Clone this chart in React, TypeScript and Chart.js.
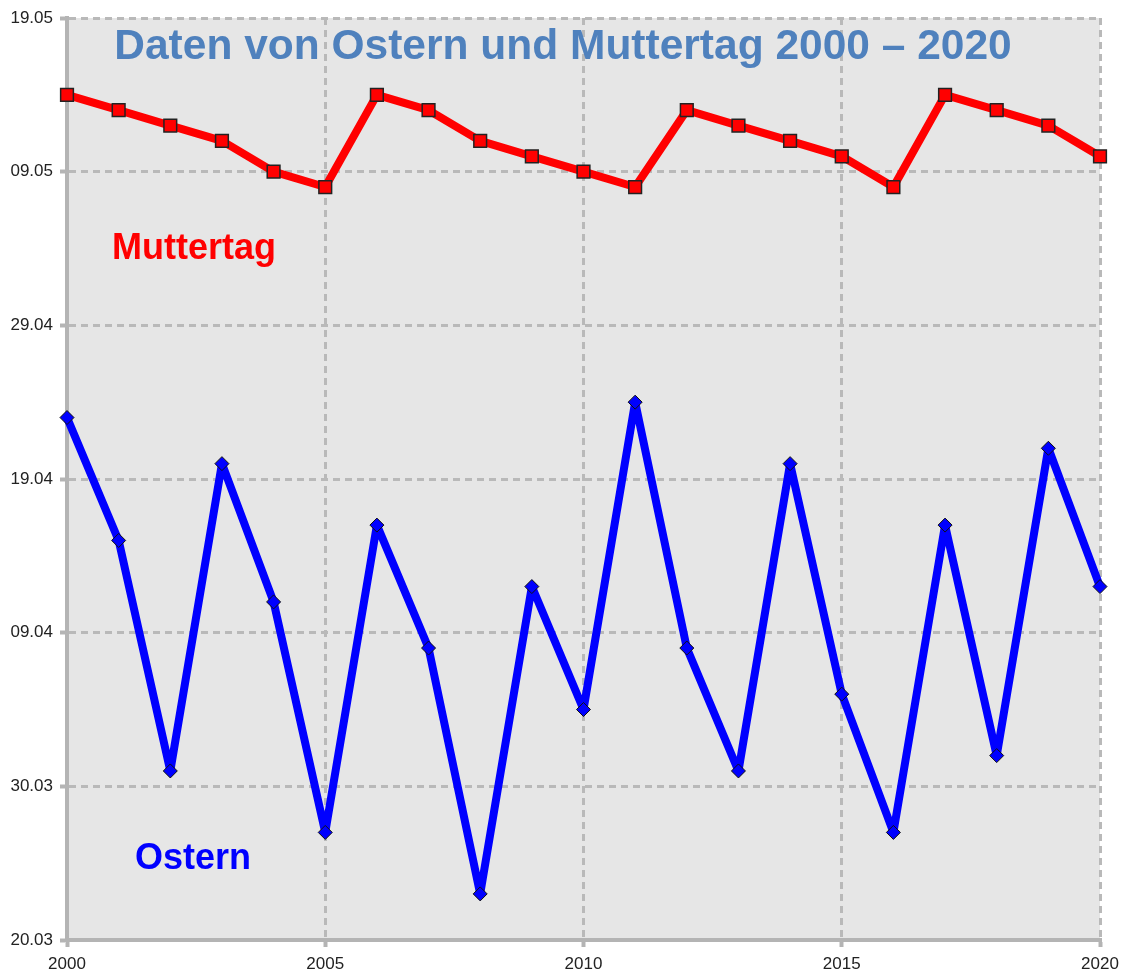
import React, { useEffect, useRef } from "react";
import { Chart, registerables } from "chart.js";

Chart.register(...registerables);

const years = [2000, 2001, 2002, 2003, 2004, 2005, 2006, 2007, 2008, 2009, 2010, 2011, 2012, 2013, 2014, 2015, 2016, 2017, 2018, 2019, 2020];

const osternDates = ["23.04", "15.04", "31.03", "20.04", "11.04", "27.03", "16.04", "08.04", "23.03", "12.04", "04.04", "24.04", "08.04", "31.03", "20.04", "05.04", "27.03", "16.04", "01.04", "21.04", "12.04"];

const muttertagDates = ["14.05", "13.05", "12.05", "11.05", "09.05", "08.05", "14.05", "13.05", "11.05", "10.05", "09.05", "08.05", "13.05", "12.05", "11.05", "10.05", "08.05", "14.05", "13.05", "12.05", "10.05"];

const yTickLabels = ["20.03", "30.03", "09.04", "19.04", "29.04", "09.05", "19.05"];
const xTicks = [2000, 2005, 2010, 2015, 2020];

const titleText = "Daten von Ostern und Muttertag 2000 \u2013 2020";

// days since 20 March
function toDay(s: string): number {
  const [d, m] = s.split(".").map(Number);
  const offset = m === 3 ? -20 : m === 4 ? 11 : 41;
  return d + offset;
}

const FONT = '"Liberation Sans", Arial, sans-serif';

export default function App() {
  const ref = useRef<HTMLCanvasElement | null>(null);

  useEffect(() => {
    document.body.style.margin = "0";
    const canvas = ref.current;
    if (!canvas) return;

    const bgPlugin = {
      id: "bg",
      beforeDraw(chart: any) {
        const { ctx, chartArea } = chart;
        ctx.save();
        ctx.fillStyle = "#e6e6e6";
        ctx.fillRect(chartArea.left, chartArea.top, chartArea.right - chartArea.left, chartArea.bottom - chartArea.top);
        ctx.restore();
      },
    };

    const textPlugin = {
      id: "texts",
      afterDatasetsDraw(chart: any) {
        const { ctx } = chart;
        ctx.save();
        ctx.textAlign = "center";
        ctx.textBaseline = "middle";
        ctx.font = `bold 42.5px ${FONT}`;
        ctx.fillStyle = "#4f81bd";
        ctx.fillText(titleText, 563, 47);
        ctx.textAlign = "left";
        ctx.font = `bold 36px ${FONT}`;
        ctx.fillStyle = "#ff0000";
        ctx.fillText("Muttertag", 112, 249);
        ctx.fillStyle = "#0000ff";
        ctx.fillText("Ostern", 135, 859);
        ctx.restore();
      },
    };

    const chart = new Chart(canvas, {
      type: "line",
      data: {
        datasets: [
          {
            label: "Muttertag",
            data: years.map((y, i) => ({ x: y, y: toDay(muttertagDates[i]) })),
            borderColor: "#ff0000",
            borderWidth: 8,
            borderJoinStyle: "bevel",
            pointStyle: "rect",
            pointRadius: 9,
            pointBackgroundColor: "#ff0000",
            pointBorderColor: "#222222",
            pointBorderWidth: 1.5,
            tension: 0,
            clip: false as any,
          },
          {
            label: "Ostern",
            data: years.map((y, i) => ({ x: y, y: toDay(osternDates[i]) })),
            borderColor: "#0000ff",
            borderWidth: 8,
            borderJoinStyle: "bevel",
            pointStyle: "rectRot",
            pointRadius: 7,
            pointBackgroundColor: "#0000ff",
            pointBorderColor: "#111111",
            pointBorderWidth: 1,
            tension: 0,
            clip: false as any,
          },
        ],
      },
      options: {
        animation: false,
        responsive: false,
        layout: { padding: { top: 18, right: 21, left: 0, bottom: 0 } },
        plugins: {
          legend: { display: false },
          tooltip: { enabled: false },
          title: { display: false },
        },
        scales: {
          x: {
            type: "linear",
            min: 2000,
            max: 2020,
            afterBuildTicks(scale: any) {
              scale.ticks = xTicks.map((v) => ({ value: v }));
            },
            afterFit(scale: any) {
              scale.height = 34;
              scale.paddingLeft = 0;
              scale.paddingRight = 0;
            },
            ticks: {
              callback: (v: any) => String(v),
              color: "#222222",
              font: { family: FONT, size: 17 },
              padding: 7,
              maxRotation: 0,
            },
            grid: {
              color: "#b9b9b9",
              lineWidth: 3,
              tickLength: 7,
              tickColor: "#b4b4b4",
              tickWidth: 4,
            },
            border: { display: true, color: "#b4b4b4", width: 4, dash: [7, 5] },
          },
          y: {
            type: "linear",
            min: 0,
            max: 60,
            afterBuildTicks(scale: any) {
              scale.ticks = yTickLabels.map((_, i) => ({ value: i * 10 }));
            },
            afterFit(scale: any) {
              scale.width = 67;
              scale.paddingTop = 0;
              scale.paddingBottom = 0;
            },
            ticks: {
              callback: (v: any) => yTickLabels[Math.round(Number(v) / 10)],
              color: "#222222",
              font: { family: FONT, size: 17 },
              padding: 7,
            },
            grid: {
              color: "#b9b9b9",
              lineWidth: 3,
              tickLength: 7,
              tickColor: "#b4b4b4",
              tickWidth: 4,
            },
            border: { display: true, color: "#b4b4b4", width: 4, dash: [7, 5] },
          },
        },
      },
      plugins: [bgPlugin, textPlugin],
    } as any);

    return () => chart.destroy();
  }, []);

  return <canvas ref={ref} width={1121} height={974} style={{ display: "block" }} />;
}
